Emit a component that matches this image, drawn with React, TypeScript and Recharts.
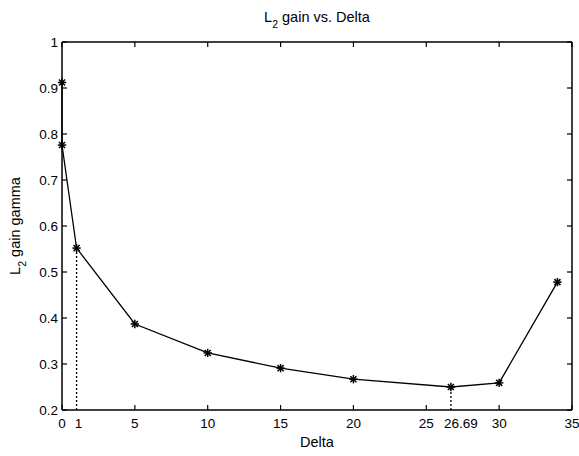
import React from 'react';
import { LineChart, Line, XAxis, YAxis, ReferenceLine } from 'recharts';

const deltaValues = [0, 0, 1, 5, 10, 15, 20, 26.69, 30, 34];
const gammaValues = [0.912, 0.776, 0.552, 0.387, 0.324, 0.291, 0.267, 0.25, 0.259, 0.478];
const xTickLabels = [0, 1, 5, 10, 15, 20, 25, 26.69, 30, 35];
const xTickMarks = [0, 5, 10, 15, 20, 25, 30, 35];
const yTickValues = [0.2, 0.3, 0.4, 0.5, 0.6, 0.7, 0.8, 0.9, 1];
const markerDeltas = [1, 26.69];
const markerGammas = [0.552, 0.25];
const yMin = 0.2;

const data = deltaValues.map((d, i) => ({ delta: d, gamma: gammaValues[i] }));

const FONT = 'Liberation Sans, Arial, Helvetica, sans-serif';
const TICK_LEN = 5;
const TICK_FONT = 13.5;

const Star = (props: any) => {
  const { cx, cy } = props;
  if (cx == null || cy == null) return null;
  const r = 4.2;
  const d = r * 0.72;
  return (
    <g stroke="#000" strokeWidth={1.5}>
      <line x1={cx - r} y1={cy} x2={cx + r} y2={cy} />
      <line x1={cx} y1={cy - r} x2={cx} y2={cy + r} />
      <line x1={cx - d} y1={cy - d} x2={cx + d} y2={cy + d} />
      <line x1={cx - d} y1={cy + d} x2={cx + d} y2={cy - d} />
    </g>
  );
};

const BottomTick = (props: any) => {
  const { x, y, payload } = props;
  const v = payload.value;
  const showMark = xTickMarks.includes(v);
  const isMarker = markerDeltas.includes(v);
  return (
    <g>
      {showMark && <line x1={x} y1={y} x2={x} y2={y - TICK_LEN} stroke="#000" strokeWidth={1.2} />}
      <text
        x={isMarker ? x - 7 : x}
        y={y + 18}
        textAnchor={isMarker && v !== 1 ? 'start' : 'middle'}
        dx={v === 1 ? 9 : 0}
        fontFamily={FONT}
        fontSize={TICK_FONT}
        fill="#000"
      >
        {String(v)}
      </text>
    </g>
  );
};

const TopTick = (props: any) => {
  const { x, y } = props;
  return <line x1={x} y1={y} x2={x} y2={y + TICK_LEN} stroke="#000" strokeWidth={1.2} />;
};

const LeftTick = (props: any) => {
  const { x, y, payload } = props;
  const v = payload.value;
  return (
    <g>
      <line x1={x} y1={y} x2={x + TICK_LEN} y2={y} stroke="#000" strokeWidth={1.2} />
      <text x={x - 4} y={y + 5} textAnchor="end" fontFamily={FONT} fontSize={TICK_FONT} fill="#000">
        {String(v)}
      </text>
    </g>
  );
};

const RightTick = (props: any) => {
  const { x, y } = props;
  return <line x1={x} y1={y} x2={x - TICK_LEN} y2={y} stroke="#000" strokeWidth={1.2} />;
};

const TitleLabel = (props: any) => {
  const vb = props.viewBox || {};
  const cx = (vb.x ?? 62) + (vb.width ?? 510) / 2;
  return (
    <text x={cx} y={22} textAnchor="middle" fontFamily={FONT} fontSize={14.5} fill="#000">
      <tspan>L</tspan>
      <tspan fontSize={10.5} dy={6}>2</tspan>
      <tspan dy={-6}> gain vs. Delta</tspan>
    </text>
  );
};

const XLabel = (props: any) => {
  const vb = props.viewBox || {};
  const cx = (vb.x ?? 62) + (vb.width ?? 510) / 2;
  return (
    <text x={cx} y={447} textAnchor="middle" fontFamily={FONT} fontSize={14.5} fill="#000">
      Delta
    </text>
  );
};

const YLabel = (props: any) => {
  const vb = props.viewBox || {};
  const cy = (vb.y ?? 42) + (vb.height ?? 368) / 2;
  const x = 20;
  return (
    <text
      x={x}
      y={cy}
      transform={`rotate(-90 ${x} ${cy})`}
      textAnchor="middle"
      fontFamily={FONT}
      fontSize={14.5}
      fill="#000"
    >
      <tspan>L</tspan>
      <tspan fontSize={10.5} dy={6}>2</tspan>
      <tspan dy={-6}> gain gamma</tspan>
    </text>
  );
};

export default function App() {
  return (
    <div style={{ position: 'absolute', left: 0, top: 0, width: 579, height: 456, background: '#fff' }}>
      <LineChart width={579} height={456} data={data} margin={{ top: 0, right: 0, bottom: 0, left: 0 }}>
        <XAxis
          xAxisId={0}
          type="number"
          dataKey="delta"
          domain={[0, 35]}
          ticks={xTickLabels}
          interval={0}
          height={46}
          tickSize={0}
          tickMargin={0}
          tickLine={false}
          axisLine={{ stroke: '#000', strokeWidth: 1.5 }}
          tick={<BottomTick />}
          label={<XLabel />}
        />
        <XAxis
          xAxisId="t"
          orientation="top"
          type="number"
          dataKey="delta"
          domain={[0, 35]}
          ticks={xTickMarks}
          interval={0}
          height={42}
          tickSize={0}
          tickMargin={0}
          tickLine={false}
          axisLine={{ stroke: '#000', strokeWidth: 1.5 }}
          tick={<TopTick />}
          label={<TitleLabel />}
        />
        <YAxis
          yAxisId={0}
          type="number"
          domain={[0.2, 1]}
          ticks={yTickValues}
          interval={0}
          width={62}
          tickSize={0}
          tickMargin={0}
          tickLine={false}
          axisLine={{ stroke: '#000', strokeWidth: 1.5 }}
          tick={<LeftTick />}
          label={<YLabel />}
        />
        <YAxis
          yAxisId="r"
          orientation="right"
          type="number"
          domain={[0.2, 1]}
          ticks={yTickValues}
          interval={0}
          width={7}
          tickSize={0}
          tickMargin={0}
          tickLine={false}
          axisLine={{ stroke: '#000', strokeWidth: 1.5 }}
          tick={<RightTick />}
        />
        {markerDeltas.map((d, i) => (
          <ReferenceLine
            key={`m${i}`}
            xAxisId={0}
            yAxisId={0}
            segment={[
              { x: d, y: yMin },
              { x: d, y: markerGammas[i] },
            ]}
            stroke="#000"
            strokeWidth={1.3}
            strokeDasharray="2 2"
            ifOverflow="visible"
          />
        ))}
        <Line
          xAxisId="t"
          yAxisId="r"
          dataKey="gamma"
          stroke="none"
          dot={false}
          activeDot={false}
          isAnimationActive={false}
        />
        <Line
          xAxisId={0}
          yAxisId={0}
          type="linear"
          dataKey="gamma"
          stroke="#000"
          strokeWidth={1.3}
          dot={(p: any) => <Star key={`s${p.index}`} {...p} />}
          activeDot={false}
          isAnimationActive={false}
        />
      </LineChart>
    </div>
  );
}
